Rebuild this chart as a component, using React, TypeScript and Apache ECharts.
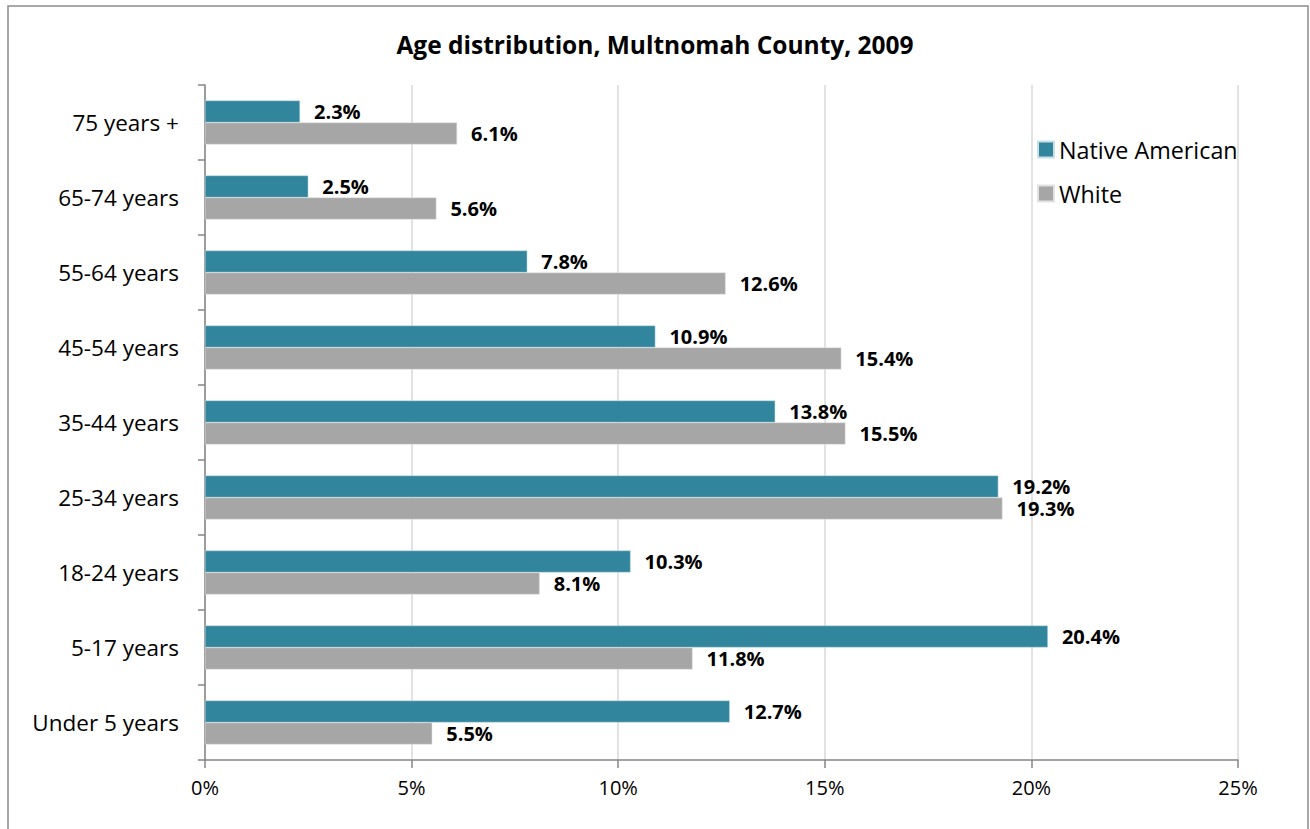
import React, { useEffect, useRef } from "react";
import * as echarts from "echarts";

const categories = [
  "75 years +",
  "65-74 years",
  "55-64 years",
  "45-54 years",
  "35-44 years",
  "25-34 years",
  "18-24 years",
  "5-17 years",
  "Under 5 years",
];
const nativeAmerican = [2.3, 2.5, 7.8, 10.9, 13.8, 19.2, 10.3, 20.4, 12.7];
const white = [6.1, 5.6, 12.6, 15.4, 15.5, 19.3, 8.1, 11.8, 5.5];
const seriesNames = ["Native American", "White"];
const titleText = "Age distribution, Multnomah County, 2009";

const FONT = "'Open Sans', sans-serif";

export default function App() {
  const ref = useRef<HTMLDivElement>(null);
  useEffect(() => {
    if (!ref.current) return;
    const chart = echarts.init(ref.current, null, { renderer: "svg" });
    const label = {
      show: true,
      position: "right",
      distance: 14,
      formatter: (p: any) => p.value.toFixed(1) + "%",
      fontFamily: FONT,
      fontWeight: "bold",
      fontSize: 20,
      lineHeight: 18,
      color: "#000",
    };
    chart.setOption({
      animation: false,
      backgroundColor: "#fff",
      textStyle: { fontFamily: FONT },
      title: {
        text: titleText,
        left: "center",
        top: 27,
        textStyle: { fontFamily: FONT, fontWeight: "bold", fontSize: 24.5, color: "#000" },
      },
      legend: {
        orient: "vertical",
        left: 1032,
        top: 133,
        itemWidth: 16,
        itemHeight: 16,
        itemGap: 21,
        icon: "rect",
        textStyle: { fontFamily: FONT, fontSize: 23.3, color: "#000" },
        data: seriesNames,
      },
      grid: { left: 205, right: 72, top: 85, bottom: 69, containLabel: false },
      xAxis: {
        type: "value",
        min: 0,
        max: 25,
        interval: 5,
        axisLine: { show: true, lineStyle: { color: "#868686", width: 1.5 } },
        axisTick: { show: true, length: 8, lineStyle: { color: "#868686", width: 1.5 } },
        axisLabel: {
          formatter: "{value}%",
          fontFamily: FONT,
          fontSize: 20,
          color: "#000",
          margin: 17,
        },
        splitLine: { show: true, lineStyle: { color: "#D9D9D9", width: 1.5 } },
      },
      yAxis: {
        type: "category",
        inverse: true,
        data: categories,
        axisLine: { show: true, lineStyle: { color: "#868686", width: 1.5 } },
        axisTick: { show: true, length: 7, lineStyle: { color: "#868686", width: 1.5 } },
        axisLabel: { fontFamily: FONT, fontSize: 22.5, color: "#000", margin: 26 },
      },
      graphic: [
        {
          type: "rect",
          shape: { x: 8, y: 6, width: 1300, height: 840 },
          style: { fill: "none", stroke: "#8C8C8C", lineWidth: 1.5 },
          silent: true,
        },
      ],
      series: [
        {
          name: seriesNames[0],
          type: "bar",
          data: nativeAmerican,
          barWidth: 22,
          barGap: "0%",
          itemStyle: { color: "#31859C", borderColor: "#C9E0E6", borderWidth: 0.5 },
          label,
        },
        {
          name: seriesNames[1],
          type: "bar",
          data: white,
          barWidth: 22,
          barGap: "0%",
          itemStyle: { color: "#A6A6A6", borderColor: "#E2E2E2", borderWidth: 0.5 },
          label,
        },
      ],
    });
    return () => chart.dispose();
  }, []);
  return (
    <div
      ref={ref}
      style={{ position: "fixed", left: 0, top: 0, width: 1310, height: 829 }}
    />
  );
}
